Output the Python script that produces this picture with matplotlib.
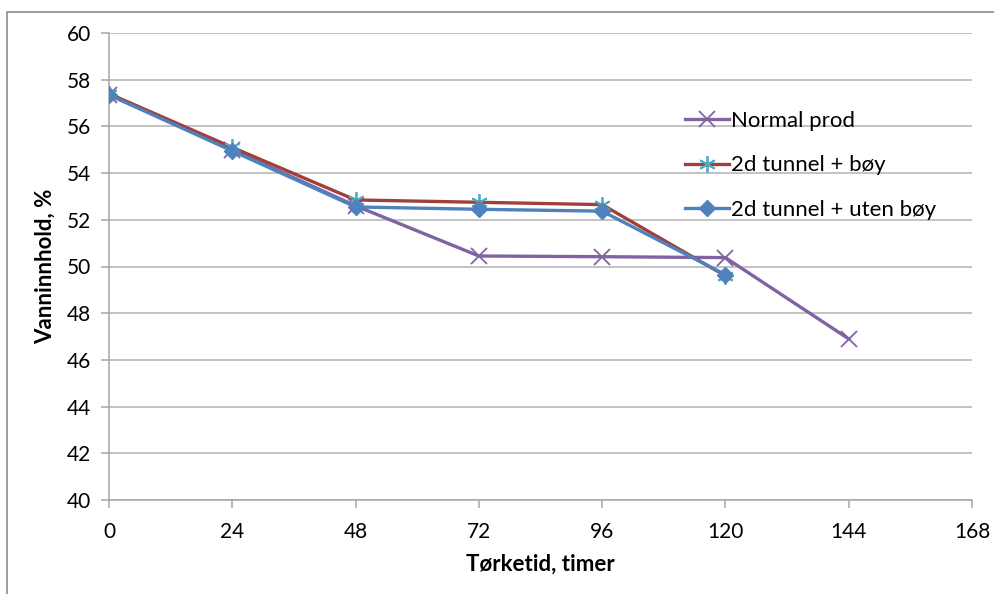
import matplotlib.pyplot as plt
from matplotlib.patches import Rectangle

hours = [0, 24, 48, 72, 96, 120, 144]
normal_prod = [57.35, 55.0, 52.6, 50.45, 50.42, 50.38, 46.9]
hours_2d = [0, 24, 48, 72, 96, 120]
tunnel_boy = [57.4, 55.1, 52.85, 52.75, 52.65, 49.6]
tunnel_uten = [57.35, 54.95, 52.55, 52.45, 52.37, 49.65]

x_ticks = [0, 24, 48, 72, 96, 120, 144, 168]
y_ticks = [40, 42, 44, 46, 48, 50, 52, 54, 56, 58, 60]

plt.rcParams['font.family'] = ['Lato', 'DejaVu Sans']

fig = plt.figure(figsize=(9.94, 5.94), dpi=100)
ax = fig.add_axes([109 / 994, 1 - 500 / 594, 863 / 994, 467 / 594])

# chart area border
fig.patches.append(Rectangle((7 / 994, -0.01), 1.0, 1 - 12 / 594 + 0.01,
                             transform=fig.transFigure, fill=False,
                             edgecolor='#8c8c8c', linewidth=1.2))

ax.plot(hours, normal_prod, color='#8064A2', linewidth=2.4, marker='x',
        markersize=11, markeredgewidth=1.3, label='Normal prod', zorder=3)
ax.plot(hours_2d, tunnel_boy, color='#A0403C', linewidth=2.4,
        marker=(6, 2, 0), markersize=12, markeredgewidth=1.3,
        markeredgecolor='#4BACC6', markerfacecolor='#4BACC6',
        label='2d tunnel + bøy', zorder=4)
ax.plot(hours_2d, tunnel_uten, color='#4F81BD', linewidth=2.4, marker='D',
        markersize=8, markeredgecolor='#4F81BD', markerfacecolor='#4F81BD',
        label='2d tunnel + uten bøy', zorder=5)

ax.set_xlim(0, 168)
ax.set_ylim(40, 60)
ax.set_xticks(x_ticks)
ax.set_yticks(y_ticks)
ax.grid(axis='y', color='#b3b3b3', linewidth=1.1)
ax.set_axisbelow(True)
for s in ['top', 'right']:
    ax.spines[s].set_visible(False)
for s in ['left', 'bottom']:
    ax.spines[s].set_color('#a6a6a6')
    ax.spines[s].set_linewidth(1.1)
ax.tick_params(axis='both', colors='#a6a6a6', length=6, width=1.1,
               labelsize=15, labelcolor='black')
ax.tick_params(axis='x', pad=10)
ax.tick_params(axis='y', pad=7)

ax.set_xlabel('Tørketid, timer', fontsize=16, fontweight='bold', labelpad=8)
ax.set_ylabel('Vanninnhold, %', fontsize=16, fontweight='bold', labelpad=8)

leg = ax.legend(loc='upper left', bbox_to_anchor=(0.644, 0.876), frameon=False,
                fontsize=16, labelspacing=1.1, handlelength=2.0,
                handletextpad=0.1)

fig.savefig('out.png', dpi=100, facecolor='white')
